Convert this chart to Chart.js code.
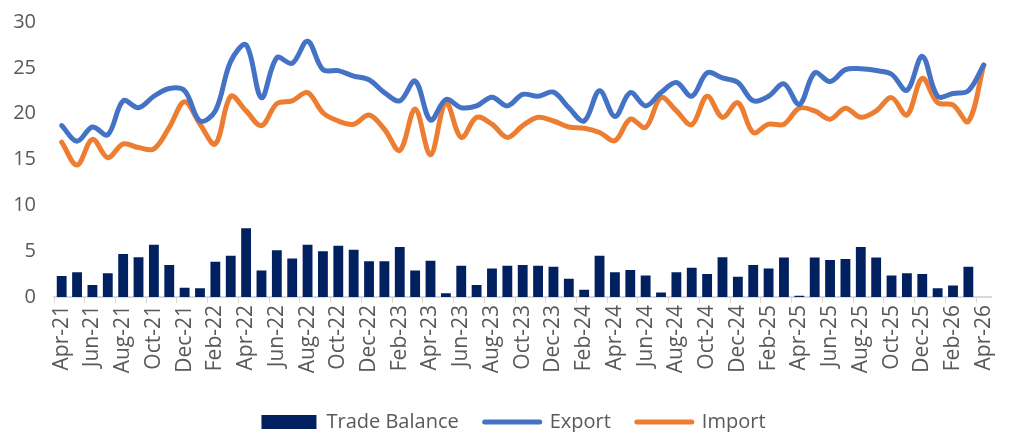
<!DOCTYPE html>
<html>
<head>
<meta charset="utf-8">
<script src="https://cdn.jsdelivr.net/npm/chart.js@4.4.1/dist/chart.umd.min.js"></script>
<style>
  html, body { margin: 0; padding: 0; background: #fff; }
  #wrap { width: 1011px; height: 434px; }
</style>
</head>
<body>
<div id="wrap"><canvas id="tradeChart"></canvas></div>
<script>
const months = [
  "Apr-21", "May-21", "Jun-21", "Jul-21", "Aug-21", "Sep-21", "Oct-21", "Nov-21", "Dec-21",
  "Jan-22", "Feb-22", "Mar-22", "Apr-22", "May-22", "Jun-22", "Jul-22", "Aug-22", "Sep-22",
  "Oct-22", "Nov-22", "Dec-22", "Jan-23", "Feb-23", "Mar-23", "Apr-23", "May-23", "Jun-23",
  "Jul-23", "Aug-23", "Sep-23", "Oct-23", "Nov-23", "Dec-23", "Jan-24", "Feb-24", "Mar-24",
  "Apr-24", "May-24", "Jun-24", "Jul-24", "Aug-24", "Sep-24", "Oct-24", "Nov-24", "Dec-24",
  "Jan-25", "Feb-25", "Mar-25", "Apr-25", "May-25", "Jun-25", "Jul-25", "Aug-25", "Sep-25",
  "Oct-25", "Nov-25", "Dec-25", "Jan-26", "Feb-26", "Mar-26", "Apr-26",
];

const tradeBalance = [
  2.3, 2.7, 1.3, 2.6, 4.7, 4.35, 5.7, 3.5, 1.0, 0.95, 3.85, 4.5, 7.5, 2.9, 5.1, 4.2,
  5.7, 5.0, 5.6, 5.15, 3.9, 3.9, 5.45, 2.9, 3.95, 0.4, 3.4, 1.3, 3.1, 3.4, 3.5, 3.4,
  3.3, 2.0, 0.8, 4.5, 2.7, 2.95, 2.35, 0.5, 2.7, 3.2, 2.5, 4.35, 2.2, 3.5, 3.1, 4.3,
  0.15, 4.3, 4.05, 4.15, 5.45, 4.3, 2.35, 2.6, 2.5, 0.95, 1.25, 3.3, null,
];

const exportVals = [
  18.7, 17.0, 18.55, 17.7, 21.4, 20.65, 21.9, 22.75, 22.5, 19.2, 20.3, 25.7, 27.5,
  21.75, 26.1, 25.5, 27.9, 24.8, 24.7, 24.1, 23.7, 22.3, 21.4, 23.55, 19.3, 21.55,
  20.65, 20.85, 21.8, 20.85, 22.1, 21.9, 22.35, 20.65, 19.2, 22.5, 19.7, 22.3, 20.85,
  22.3, 23.4, 21.9, 24.45, 23.9, 23.4, 21.4, 21.9, 23.25, 21.0, 24.45, 23.5, 24.8,
  24.9, 24.7, 24.3, 22.55, 26.25, 21.9, 22.2, 22.5, 25.3,
];

const importVals = [
  16.9, 14.4, 17.2, 15.2, 16.7, 16.3, 16.15, 18.5, 21.3, 18.85, 16.7, 21.9, 20.3,
  18.7, 21.1, 21.4, 22.3, 20.1, 19.2, 18.85, 19.85, 18.3, 16.0, 20.5, 15.5, 21.2,
  17.4, 19.6, 18.85, 17.4, 18.7, 19.6, 19.2, 18.55, 18.4, 17.95, 17.05, 19.4, 18.5,
  21.75, 20.3, 18.8, 21.9, 19.6, 21.2, 17.95, 18.85, 18.85, 20.6, 20.3, 19.4, 20.6,
  19.6, 20.3, 21.75, 19.85, 23.85, 21.2, 20.95, 19.15, 25.3,
];

const textColor = "#595959";
const fontFamily = "'Open Sans', 'Noto Sans', sans-serif";

// legend sits a bit lower and further right than Chart.js puts it
const legendShift = {
  id: "legendShift",
  beforeInit(chart) {
    const lg = chart.legend;
    const fit = lg.fit;
    lg.fit = function () {
      fit.call(this);
      this.height -= 10;
    };
    const draw = lg.draw;
    lg.draw = function () {
      this.left += 12;
      this.right += 12;
      draw.apply(this, arguments);
      this.left -= 12;
      this.right -= 12;
    };
  },
};

const ctx = document.getElementById("tradeChart");

new Chart(ctx, {
  type: "bar",
  data: {
    labels: months,
    datasets: [
      {
        label: "Trade Balance",
        data: tradeBalance,
        backgroundColor: "#002060",
        borderWidth: 0,
        barPercentage: 0.64,
        categoryPercentage: 1,
      },
      {
        type: "line",
        label: "Export",
        data: exportVals,
        borderColor: "#4472C4",
        backgroundColor: "#4472C4",
        borderWidth: 5,
        borderCapStyle: "round",
        pointRadius: 0,
        tension: 0.35,
      },
      {
        type: "line",
        label: "Import",
        data: importVals,
        borderColor: "#ED7D31",
        backgroundColor: "#ED7D31",
        borderWidth: 5,
        borderCapStyle: "round",
        pointRadius: 0,
        tension: 0.35,
      },
    ],
  },
  plugins: [legendShift],
  options: {
    responsive: true,
    maintainAspectRatio: false,
    animation: false,
    layout: {
      padding: { left: 0, right: 8, top: 6, bottom: 2 },
    },
    scales: {
      x: {
        grid: {
          offset: true,
          drawOnChartArea: false,
          drawTicks: true,
          tickLength: 6,
          color: (c) => (c.index % 2 === 0 ? "#D9D9D9" : "rgba(0,0,0,0)"),
        },
        border: { color: "#D9D9D9", width: 2 },
        ticks: {
          autoSkip: false,
          minRotation: 90,
          maxRotation: 90,
          padding: 2,
          color: textColor,
          font: { family: fontFamily, size: 21 },
          callback: function (val, i) {
            return i % 2 === 0 ? this.getLabelForValue(val) : "";
          },
        },
        afterFit: (scale) => {
          scale.height = 89;
        },
      },
      y: {
        min: 0,
        max: 30,
        grid: { display: false },
        border: { display: false },
        ticks: {
          stepSize: 5,
          padding: 10,
          color: textColor,
          font: { family: fontFamily, size: 20 },
        },
        afterFit: (scale) => {
          scale.width = 54;
        },
      },
    },
    plugins: {
      legend: {
        position: "bottom",
        labels: {
          usePointStyle: true,
          pointStyleWidth: 55,
          boxHeight: 14,
          padding: 26,
          color: textColor,
          font: { family: fontFamily, size: 20 },
          generateLabels: (chart) =>
            Chart.defaults.plugins.legend.labels.generateLabels(chart).map((item, i) => {
              if (i === 0) {
                item.pointStyle = "rect";
                item.lineWidth = 0;
              } else {
                item.pointStyle = "line";
                item.lineWidth = 5;
                item.lineCap = "round";
              }
              return item;
            }),
        },
      },
      tooltip: { enabled: false },
    },
  },
});
</script>
</body>
</html>
